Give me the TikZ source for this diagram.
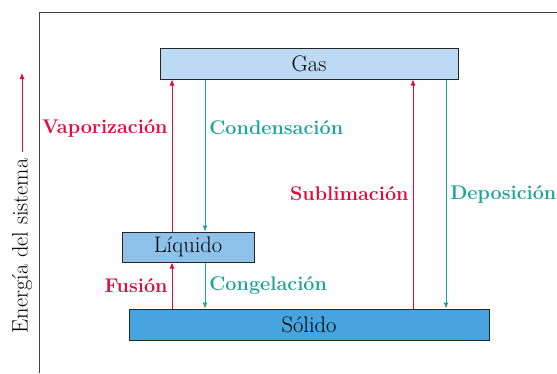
\documentclass[tikz,border=0pt]{standalone}
\usetikzlibrary{arrows.meta,positioning}

\definecolor{gasblue}{HTML}{BCDAF4}
\definecolor{liqblue}{HTML}{8EC2EA}
\definecolor{solblue}{HTML}{48A4DF}
\definecolor{heatred}{HTML}{E5083A}
\definecolor{coolteal}{HTML}{1FA39D}

\begin{document}
\begin{tikzpicture}[
  x=1pt,
  y=-1pt,
  >={Latex[length=6pt,width=5pt]},
  phase/.style={draw=black!85, line width=1pt, inner sep=0pt, font=\fontsize{22.5}{26}\selectfont},
  uparrow/.style={->, line width=0.8pt, draw=heatred},
  downarrow/.style={->, line width=0.8pt, draw=coolteal},
  redlabel/.style={text=heatred, inner sep=4pt, font=\fontsize{19.8}{23}\selectfont\bfseries},
  teallabel/.style={text=coolteal, inner sep=4pt, font=\fontsize{19.8}{23}\selectfont\bfseries},
]
\useasboundingbox (0,0) rectangle (557,373);

% frame
\draw[black!75, line width=0.9pt] (39,373) -- (39,12) -- (557,12);

% phases
\node[phase, fill=gasblue, minimum width=298pt, minimum height=31pt] (gas) at (309,63.5) {Gas};
\node[phase, fill=liqblue, minimum width=132pt, minimum height=30pt] (liquido) at (188,247) {L\'{\i}quido};
\node[phase, fill=solblue, minimum width=360pt, minimum height=31pt] (solido) at (309,324.5) {S\'olido};

% transitions
\draw[uparrow] (liquido.north -| 172,0) -- node[redlabel, left, pos=0.68] {Vaporizaci\'on} (gas.south -| 172,0);
\draw[downarrow] (gas.south -| 205,0) -- node[teallabel, right, pos=0.32] {Condensaci\'on} (liquido.north -| 205,0);
\draw[uparrow] (solido.north -| 172,0) -- node[redlabel, left] {Fusi\'on} (liquido.south -| 172,0);
\draw[downarrow] (liquido.south -| 205,0) -- node[teallabel, right] {Congelaci\'on} (solido.north -| 205,0);
\draw[uparrow] (solido.north -| 413,0) -- node[redlabel, left] {Sublimaci\'on} (gas.south -| 413,0);
\draw[downarrow] (gas.south -| 446,0) -- node[teallabel, right] {Deposici\'on} (solido.north -| 446,0);

% energy axis
\node[rotate=90, inner sep=0pt, outer sep=7pt, font=\fontsize{22.4}{26}\selectfont] (energia) at (22,246) {Energ\'{\i}a del sistema};
\coordinate (tope) at (22,73);
\draw[uparrow] (energia.east) -- (tope);

\end{tikzpicture}
\end{document}
